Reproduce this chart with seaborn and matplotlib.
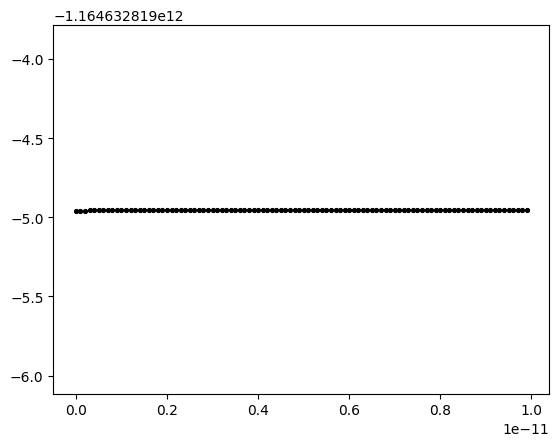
import matplotlib
matplotlib.use('Agg')
import matplotlib.pyplot as plt
import numpy as np
import seaborn as sns

# Data (x in units of 1e-11, y as offset from the base value)
x_units = [0.00, 0.01, 0.02, 0.03, 0.04, 0.05, 0.06, 0.07, 0.08, 0.09,
           0.10, 0.11, 0.12, 0.13, 0.14, 0.15, 0.16, 0.17, 0.18, 0.19,
           0.20, 0.21, 0.22, 0.23, 0.24, 0.25, 0.26, 0.27, 0.28, 0.29,
           0.30, 0.31, 0.32, 0.33, 0.34, 0.35, 0.36, 0.37, 0.38, 0.39,
           0.40, 0.41, 0.42, 0.43, 0.44, 0.45, 0.46, 0.47, 0.48, 0.49,
           0.50, 0.51, 0.52, 0.53, 0.54, 0.55, 0.56, 0.57, 0.58, 0.59,
           0.60, 0.61, 0.62, 0.63, 0.64, 0.65, 0.66, 0.67, 0.68, 0.69,
           0.70, 0.71, 0.72, 0.73, 0.74, 0.75, 0.76, 0.77, 0.78, 0.79,
           0.80, 0.81, 0.82, 0.83, 0.84, 0.85, 0.86, 0.87, 0.88, 0.89,
           0.90, 0.91, 0.92, 0.93, 0.94, 0.95, 0.96, 0.97, 0.98, 0.99]
y_base = -1164632819000.0
y_offsets = [-4.957] * 3 + [-4.951] * 97

x = np.array(x_units) * 1e-11
y = y_base + np.array(y_offsets)

fig, ax = plt.subplots(figsize=(6.4, 4.8))
sns.lineplot(x=x, y=y, ax=ax, marker='.', linestyle='', color='k',
             markersize=6, markeredgecolor='k', sort=False)
ax.set_ylim(y_base - 6.118, y_base - 3.78)

fig.savefig('out.png', dpi=100, bbox_inches='tight')
